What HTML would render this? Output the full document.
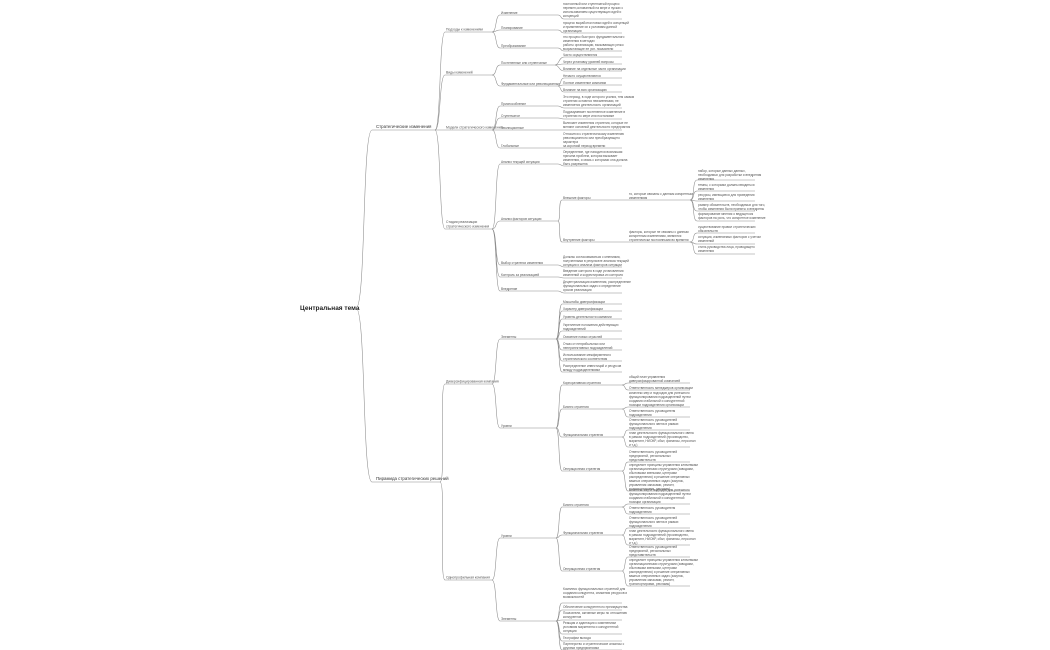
<!DOCTYPE html>
<html><head><meta charset="utf-8"><style>
html,body{margin:0;padding:0;background:#fff;width:1050px;height:650px;overflow:hidden}
svg{display:block}
path{fill:none;stroke:#8a8a8a;stroke-width:0.55}
text{font-family:"Liberation Sans",sans-serif;font-size:3.2px;fill:#555}
.c{font-size:6.5px;font-weight:bold;fill:#222}
.l1{font-size:4.4px;fill:#333}
.l2{font-size:3.4px}
</style></head><body>
<svg width="1050" height="650" viewBox="0 0 1050 650" xmlns="http://www.w3.org/2000/svg">
<text class="c" x="300" y="310">Центральная тема</text>
<path d="M356 308 C366 308 362 130 372 130 H435"/>
<path d="M356 308 C366 308 362 482 372 482 H440"/>
<text class="l1" x="376" y="128">Стратегические изменения</text>
<text class="l1" x="376" y="480">Пирамида стратегических решений</text>

<!-- level 2 -->
<path d="M435 130 C441 130 439 32 445 32 H492"/><text class="l2" x="446" y="30.5">Подходы к изменениям</text>
<path d="M435 130 C441 130 439 75 445 75 H492"/><text class="l2" x="446" y="73.5">Виды изменений</text>
<path d="M435 130 C441 130 439 130 445 130 H492"/><text class="l2" x="446" y="128.5">Модели стратегического изменения</text>
<path d="M435 130 C441 130 439 229 445 229 H492"/><text class="l2" x="446" y="223">Стадии реализации</text><text class="l2" x="446" y="227.5">стратегического изменения</text>
<path d="M440 482 C446 482 439 384 445 384 H492"/><text class="l2" x="446" y="382.5">Диверсифицированная компания</text>
<path d="M440 482 C446 482 439 580 445 580 H492"/><text class="l2" x="446" y="578.5">Однопрофильная компания</text>

<!-- Подходы -->
<path d="M492 32 C497 32 495 15 500 15 H558"/><text x="501" y="14">Изменение</text>
<path d="M492 32 C497 32 495 30 500 30 H558"/><text x="501" y="29">Планирование</text>
<path d="M492 32 C497 32 495 48 500 48 H558"/><text x="501" y="47">Преобразование</text>
<path d="M558 15 C562 15 560 19 564 19 H622"/><text x="563" y="5">постоянный или ступенчатый процесс</text><text x="563" y="9">перемен,основанный на мере и пусках с</text><text x="563" y="13">использованием существующих идей и</text><text x="563" y="17">концепций</text>
<path d="M558 30 C562 30 560 33 564 33 H622"/><text x="563" y="24">процесс выработки новых идей и концепций</text><text x="563" y="28">и применение их к условиям данной</text><text x="563" y="32">организации</text>
<path d="M558 48 C562 48 560 51 564 51 H622"/><text x="563" y="38">это процесс быстрого фундаментального</text><text x="563" y="42">изменения в методах</text><text x="563" y="46">работы организации, вызывающих резко</text><text x="563" y="50">возрастающие ее усп. показатели</text>

<!-- Виды -->
<path d="M492 75 C497 75 495 65 500 65 H555"/><text x="501" y="64">Постепенные или ступенчатые</text>
<path d="M492 75 C497 75 495 86 500 86 H558"/><text x="501" y="85">Фундаментальные или революционные</text>
<path d="M555 65 C559 65 559 57 564 57 H622"/><text x="563" y="56">Часто осуществляются</text>
<path d="M555 65 C559 65 559 64 564 64 H622"/><text x="563" y="63">Через установку уровней вопросы</text>
<path d="M555 65 C559 65 559 71 564 71 H622"/><text x="563" y="70">Влияние на отдельные части организации</text>
<path d="M558 86 C561 86 560 78 564 78 H622"/><text x="563" y="77">Нечасто осуществляются</text>
<path d="M558 86 C561 86 560 85 564 85 H622"/><text x="563" y="84">Полное изменение компании</text>
<path d="M558 86 C561 86 560 92 564 92 H622"/><text x="563" y="91">Влияние на всю организацию</text>

<!-- Модели -->
<path d="M492 130 C497 130 495 106 500 106 H558"/><text x="501" y="105">Приспособление</text>
<path d="M492 130 C497 130 495 118 500 118 H558"/><text x="501" y="117">Ступенчатое</text>
<path d="M492 130 C497 130 495 130 500 130 H558"/><text x="501" y="129">Эволюционные</text>
<path d="M492 130 C497 130 495 148 500 148 H558"/><text x="501" y="147">Глобальные</text>
<path d="M558 106 C561 106 561 108 564 108 H622"/><text x="563" y="98">Это период, в ходе которого усилия, тем самым</text><text x="563" y="102">стратегии остаются неизменными, не</text><text x="563" y="106">изменяется деятельность организаций</text>
<path d="M558 118 C561 118 561 119 564 119 H622"/><text x="563" y="113">Подразумевает постепенное изменение в</text><text x="563" y="117">стратегии по мере или постановке</text>
<path d="M558 130 C561 130 561 130 564 130 H622"/><text x="563" y="124">Включает изменения стратегии, которые не</text><text x="563" y="128">меняют основной деятельности предприятия</text>
<path d="M558 148 C561 148 561 148 564 148 H622"/><text x="563" y="135">Относится к стратегическому изменению</text><text x="563" y="139">революционного или преобразующего</text><text x="563" y="143">характера</text><text x="563" y="147">за короткий период времени</text>

<!-- Стадии -->
<path d="M492 229 C497 229 495 164 500 164 H558"/><text x="501" y="163">Анализ текущей ситуации</text>
<path d="M492 229 C497 229 495 221 500 221 H558"/><text x="501" y="220">Анализ факторов ситуации</text>
<path d="M492 229 C497 229 495 265 500 265 H558"/><text x="501" y="264">Выбор стратегии изменения</text>
<path d="M492 229 C497 229 495 277 500 277 H558"/><text x="501" y="276">Контроль за реализацией</text>
<path d="M492 229 C497 229 495 291 500 291 H558"/><text x="501" y="290">Внедрение</text>
<path d="M558 164 C561 164 561 166 564 166 H622"/><text x="563" y="153">Определение, где находится возникшая</text><text x="563" y="157">причина проблем, которая вызывает</text><text x="563" y="161">изменения, и связь с которыми она должна</text><text x="563" y="165">быть разрешена</text>
<path d="M558 221 C561 221 558 200 562 200 H622"/><text x="563" y="199">Внешние факторы</text>
<path d="M558 221 C561 221 558 242 562 242 H622"/><text x="563" y="241">Внутренние факторы</text>
<path d="M622 200 C626 200 624 200 628 200 H690"/><text x="629" y="195">то, которые связаны с данным конкретным</text><text x="629" y="199">изменениям</text>
<path d="M622 242 C626 242 624 242 628 242 H690"/><text x="629" y="233">факторы, которые не связаны с данным</text><text x="629" y="237">конкретным изменениям, являются</text><text x="629" y="241">стратегически постоянными во времени</text>
<path d="M690 200 C695 200 692 180 697 180 H755"/><text x="698" y="172">набор, которые данных данных,</text><text x="698" y="176">необходимых для разработки и внедрения</text><text x="698" y="180">изменения</text>
<path d="M690 200 C695 200 692 191 697 191 H755"/><text x="698" y="186">темпы, с которыми должны вводиться</text><text x="698" y="190">изменения</text>
<path d="M690 200 C695 200 692 201 697 201 H755"/><text x="698" y="196">ресурсы, имеющиеся для проведения</text><text x="698" y="200">изменения</text>
<path d="M690 200 C695 200 692 211 697 211 H755"/><text x="698" y="206">размер обязательств, необходимых для того,</text><text x="698" y="210">чтобы изменения были приняты и внедрены</text>
<path d="M690 200 C695 200 692 221 697 221 H755"/><text x="698" y="215">формирование мнения о ведущегося</text><text x="698" y="219">факторов на роль, что конкретное изменение</text>
<path d="M690 242 C695 242 692 233 697 233 H755"/><text x="698" y="228">существование правил стратегических</text><text x="698" y="232">обязательств</text>
<path d="M690 242 C695 242 692 244 697 244 H755"/><text x="698" y="238">ситуация, изменяемых факторов с учетом</text><text x="698" y="242">изменений</text>
<path d="M690 242 C695 242 692 254 697 254 H755"/><text x="698" y="248">стиль руководства лица, проводящего</text><text x="698" y="252">изменения</text>
<path d="M558 265 C561 265 561 267 564 267 H622"/><text x="563" y="258">Должны согласовываться с мнениями,</text><text x="563" y="262">полученными в результате анализа текущей</text><text x="563" y="266">ситуации и анализа факторов ситуации</text>
<path d="M558 277 C561 277 561 278 564 278 H622"/><text x="563" y="272">Введение контроля в ходе установления</text><text x="563" y="276">изменений и корректировка их контроля</text>
<path d="M558 291 C561 291 561 293 564 293 H622"/><text x="563" y="283">Децентрализация изменения, распределение</text><text x="563" y="287">функциональных задач и определение</text><text x="563" y="291">сроков реализации</text>

<!-- Диверсифицированная: Элементы -->
<path d="M492 384 C497 384 495 339 500 339 H556"/><text x="501" y="338">Элементы</text>
<path d="M492 384 C497 384 495 428 500 428 H556"/><text x="501" y="427">Уровни</text>
<path d="M556 339 C560 339 558 304 562 304 H622"/><text x="563" y="303">Масштабы диверсификации</text>
<path d="M556 339 C560 339 558 311 562 311 H622"/><text x="563" y="310">Характер диверсификации</text>
<path d="M556 339 C560 339 558 319 562 319 H622"/><text x="563" y="318">Уровень деятельности компании</text>
<path d="M556 339 C560 339 558 331 562 331 H622"/><text x="563" y="326">Укрепление положения действующих</text><text x="563" y="330">подразделений</text>
<path d="M556 339 C560 339 558 339 562 339 H622"/><text x="563" y="338">Освоение новых отраслей</text>
<path d="M556 339 C560 339 558 350 562 350 H622"/><text x="563" y="345">Отказ от неприбыльных или</text><text x="563" y="349">неперспективных подразделений</text>
<path d="M556 339 C560 339 558 361 562 361 H622"/><text x="563" y="356">Использование межфирменного</text><text x="563" y="360">стратегического соответствия</text>
<path d="M556 339 C560 339 558 372 562 372 H622"/><text x="563" y="367">Распределение инвестиций и ресурсов</text><text x="563" y="371">между подразделениями</text>

<!-- Диверс Уровни -->
<path d="M556 428 C560 428 558 385 562 385 H622"/><text x="563" y="384">Корпоративная стратегия</text>
<path d="M556 428 C560 428 558 409 562 409 H622"/><text x="563" y="408">Бизнес стратегия</text>
<path d="M556 428 C560 428 558 437 562 437 H622"/><text x="563" y="436">Функциональная стратегия</text>
<path d="M556 428 C560 428 558 471 562 471 H622"/><text x="563" y="470">Операционная стратегия</text>
<path d="M622 385 C626 385 624 383 628 383 H690"/><text x="629" y="378">общий план управления</text><text x="629" y="382">диверсифицированной компанией</text>
<path d="M622 385 C626 385 624 390 628 390 H690"/><text x="629" y="389">Ответственность менеджеров организации</text>
<path d="M622 409 C626 409 624 407 628 407 H690"/><text x="629" y="394">комплекс мер и подходов для успешного</text><text x="629" y="398">функционирования подразделений путем</text><text x="629" y="402">создания стабильной и конкурентной</text><text x="629" y="406">позиции подразделения организации</text>
<path d="M622 409 C626 409 624 417 628 417 H690"/><text x="629" y="412">Ответственность руководителя</text><text x="629" y="416">подразделения</text>
<path d="M622 437 C626 437 624 430 628 430 H690"/><text x="629" y="421">Ответственность руководителей</text><text x="629" y="425">функционального звена в рамках</text><text x="629" y="429">подразделения</text>
<path d="M622 437 C626 437 624 447 628 447 H690"/><text x="629" y="434">план деятельности функционального звена</text><text x="629" y="438">в рамках подразделений (производство,</text><text x="629" y="442">маркетинг, НИОКР, сбыт, финансы, персонал</text><text x="629" y="446">и т.д.)</text>
<path d="M622 471 C626 471 624 462 628 462 H690"/><text x="629" y="453">Ответственность руководителей</text><text x="629" y="457">предприятий, региональных</text><text x="629" y="461">представительств</text>
<path d="M622 471 C626 471 624 491 628 491 H690"/><text x="629" y="466">определяет принципы управления ключевыми</text><text x="629" y="470">организационными структурами (заводами,</text><text x="629" y="474">сбытовыми звеньями, центрами</text><text x="629" y="478">распределения) и решение оперативных</text><text x="629" y="482">важных оперативных задач (закупок,</text><text x="629" y="486">управления запасами, ремонт,</text><text x="629" y="490">транспортировки, рекламы)</text>

<!-- Однопрофильная -->
<path d="M492 580 C497 580 495 538 500 538 H556"/><text x="501" y="537">Уровни</text>
<path d="M492 580 C497 580 495 621 500 621 H556"/><text x="501" y="620">Элементы</text>
<path d="M556 538 C560 538 558 507 562 507 H622"/><text x="563" y="506">Бизнес стратегия</text>
<path d="M556 538 C560 538 558 535 562 535 H622"/><text x="563" y="534">Функциональная стратегия</text>
<path d="M556 538 C560 538 558 571 562 571 H622"/><text x="563" y="570">Операционная стратегия</text>
<path d="M622 507 C626 507 624 504 628 504 H690"/><text x="629" y="491">комплекс мер и подходов для успешного</text><text x="629" y="495">функционирования подразделений путем</text><text x="629" y="499">создания стабильной и конкурентной</text><text x="629" y="503">позиции организации</text>
<path d="M622 507 C626 507 624 514 628 514 H690"/><text x="629" y="509">Ответственность руководителя</text><text x="629" y="513">подразделения</text>
<path d="M622 535 C626 535 624 528 628 528 H690"/><text x="629" y="519">Ответственность руководителей</text><text x="629" y="523">функционального звена в рамках</text><text x="629" y="527">подразделения</text>
<path d="M622 535 C626 535 624 545 628 545 H690"/><text x="629" y="532">план деятельности функционального звена</text><text x="629" y="536">в рамках подразделений (производство,</text><text x="629" y="540">маркетинг, НИОКР, сбыт, финансы, персонал</text><text x="629" y="544">и т.д.)</text>
<path d="M622 571 C626 571 624 557 628 557 H690"/><text x="629" y="548">Ответственность руководителей</text><text x="629" y="552">предприятий, региональных</text><text x="629" y="556">представительств</text>
<path d="M622 571 C626 571 624 586 628 586 H690"/><text x="629" y="561">определяет принципы управления ключевыми</text><text x="629" y="565">организационными структурами (заводами,</text><text x="629" y="569">сбытовыми звеньями, центрами</text><text x="629" y="573">распределения) и решение оперативных</text><text x="629" y="577">важных оперативных задач (закупок,</text><text x="629" y="581">управления запасами, ремонт,</text><text x="629" y="585">транспортировки, рекламы)</text>
<path d="M556 621 C560 621 558 603 562 603 H622"/><text x="563" y="590">Комплекс функциональных стратегий для</text><text x="563" y="594">создания конкурента, снижения ресурсов и</text><text x="563" y="598">возможностей</text>
<path d="M556 621 C560 621 558 610 562 610 H622"/><text x="563" y="608">Обеспечение конкурентного преимущества</text>
<path d="M556 621 C560 621 558 620 562 620 H622"/><text x="563" y="614">Показатели, активные меры по отношению</text><text x="563" y="618">конкурентов</text>
<path d="M556 621 C560 621 558 634 562 634 H622"/><text x="563" y="624">Реакция и адаптация к изменениям</text><text x="563" y="628">условиям маркетинга и конкурентной</text><text x="563" y="632">ситуации</text>
<path d="M556 621 C560 621 558 641 562 641 H622"/><text x="563" y="639">Географии выхода</text>
<path d="M556 621 C560 621 558 650 562 650 H622"/><text x="563" y="645">Партнерство и стратегические альянсы с</text><text x="563" y="649">другими предприятиями</text>
</svg>
</body></html>
